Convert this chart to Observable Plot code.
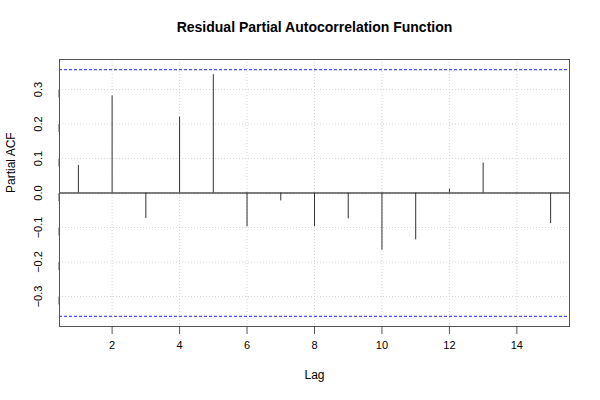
<!DOCTYPE html>
<html>
<head>
<meta charset="utf-8">
<script src="https://cdn.jsdelivr.net/npm/d3@7"></script>
<script src="https://cdn.jsdelivr.net/npm/@observablehq/plot@0.6"></script>
<style>
  html, body { margin: 0; padding: 0; background: #fff; }
  svg { font-family: "Liberation Sans", Arial, Helvetica, sans-serif; }
</style>
</head>
<body>
<div id="chart"></div>
<script>
const lags = [1, 2, 3, 4, 5, 6, 7, 8, 9, 10, 11, 12, 13, 14, 15];
const pacf = [0.080, 0.281, -0.074, 0.220, 0.343, -0.098, -0.023, -0.098, -0.075, -0.166, -0.136, 0.011, 0.087, 0.001, -0.089];
const clim = 0.3578;
const xTicks = [2, 4, 6, 8, 10, 12, 14];
const yTicks = [-0.3, -0.2, -0.1, 0.0, 0.1, 0.2, 0.3];
const title = "Residual Partial Autocorrelation Function";
const xLabel = "Lag";
const yLabel = "Partial ACF";

const data = lags.map((l, i) => ({lag: l, value: pacf[i]}));

const chart = Plot.plot({
  width: 600,
  height: 400,
  marginLeft: 59,
  marginRight: 31,
  marginTop: 59,
  marginBottom: 74,
  style: {fontFamily: '"Liberation Sans", Arial, Helvetica, sans-serif', fontSize: "11px", background: "#fff"},
  x: {domain: [0.44, 15.56]},
  y: {domain: [-0.387, 0.387]},
  marks: [
    Plot.gridX(xTicks, {stroke: "#d6d6d6", strokeOpacity: 1, strokeDasharray: "1,2"}),
    Plot.gridY(yTicks, {stroke: "#d6d6d6", strokeOpacity: 1, strokeDasharray: "1,2"}),
    Plot.ruleY([0], {stroke: "#000", strokeWidth: 1}),
    Plot.ruleY([clim, -clim], {stroke: "#4d4dff", strokeDasharray: "3,2", strokeWidth: 1.2}),
    Plot.ruleX(data, {x: "lag", y1: 0, y2: "value", stroke: "#333", strokeWidth: 1}),
    Plot.frame({stroke: "#555"}),
    Plot.axisX(xTicks, {tickSize: 8, tickPadding: 7, fontSize: 11, label: null, stroke: "#555"}),
    Plot.axisY(yTicks, {tickSize: 8, tickPadding: 13, rotate: -90, textAnchor: "middle", fontSize: 11, label: null, tickFormat: d3.format(".1f"), stroke: "#555"}),
    Plot.text([title], {text: d => d, frameAnchor: "top", dy: -37, fontSize: 14, fontWeight: "bold"}),
    Plot.text([xLabel], {text: d => d, frameAnchor: "bottom", dy: 52, fontSize: 12}),
    Plot.text([yLabel], {text: d => d, frameAnchor: "left", dx: -48, rotate: -90, fontSize: 12})
  ]
});
document.getElementById("chart").appendChild(chart);
</script>
</body>
</html>
